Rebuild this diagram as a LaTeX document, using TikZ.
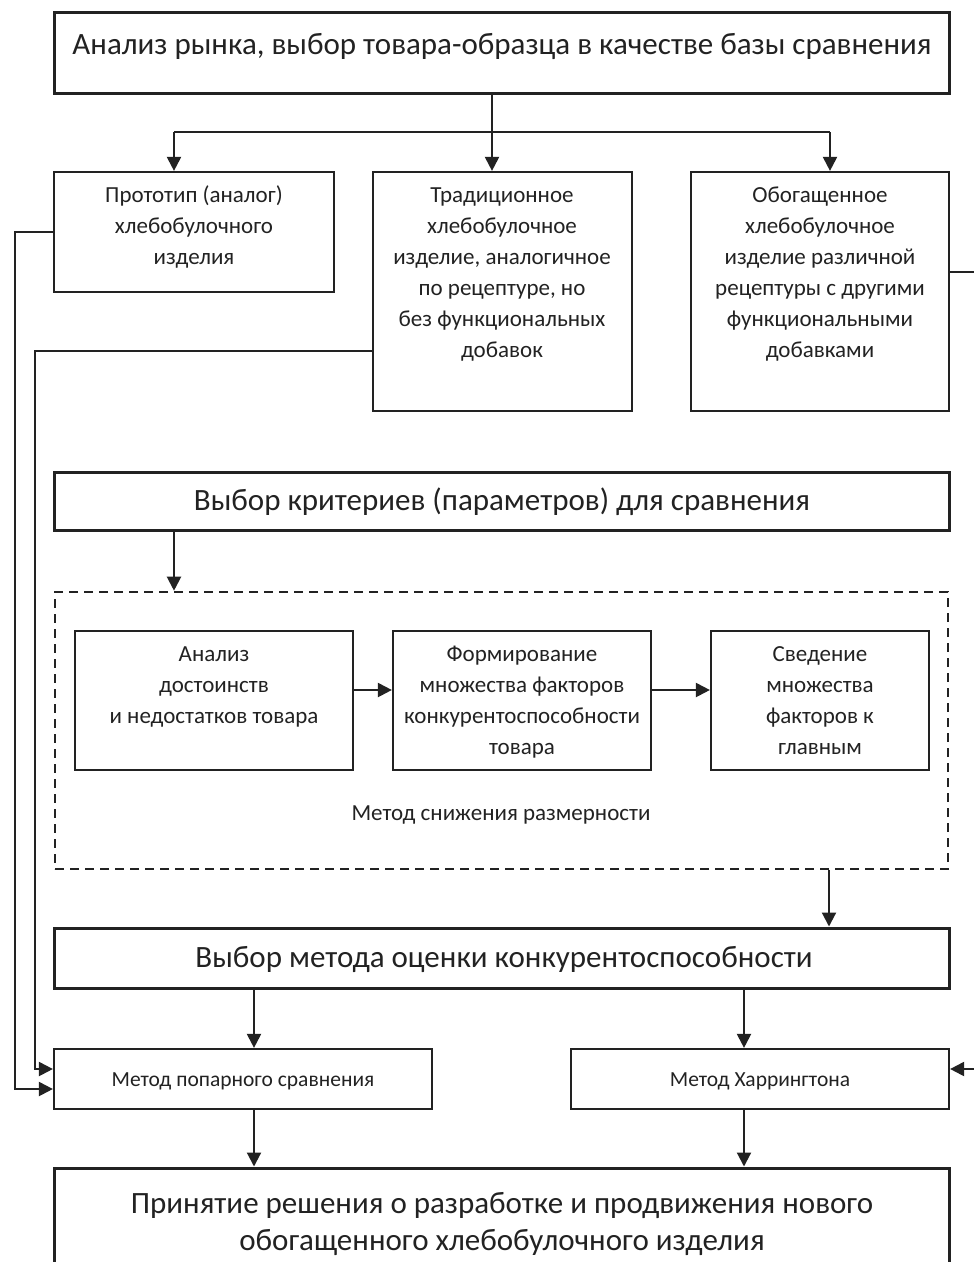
\documentclass[tikz,border=0pt]{standalone}
\usepackage{fontspec}
\setmainfont{Carlito}
\usetikzlibrary{arrows.meta}
\definecolor{ink}{HTML}{222222}
\begin{document}
\begin{tikzpicture}[x=1pt,y=-1pt,
  bigbox/.style={draw=ink, line width=3pt, inner sep=0pt},
  smallbox/.style={draw=ink, line width=2.2pt, inner sep=0pt},
  dashbox/.style={draw=ink, line width=2.6pt, dash pattern=on 9pt off 6pt, inner sep=0pt},
  conn/.style={draw=ink, line width=2.1pt, -{Triangle[length=14pt,width=14pt]}},
  plain/.style={draw=ink, line width=2.1pt},
  bigtxt/.style={font=\fontsize{31}{37}\selectfont, align=center, inner sep=0pt, anchor=base, text=ink},
  midtxt/.style={font=\fontsize{23}{31}\selectfont, align=center, inner sep=0pt, anchor=base, text=ink},
  smalltxt/.style={font=\fontsize{21.5}{26}\selectfont, inner sep=0pt, anchor=base, text=ink},
]
\useasboundingbox (0,0) rectangle (974,1262);

% top box
\node[bigbox, minimum width=895pt, minimum height=81pt] (top) at (501.5,52.5) {};
\node[bigtxt] (toptxt) at (502,54) {Анализ рынка, выбор товара-образца в качестве базы сравнения};

% first row (anchor base = baseline of the last line)
\node[smallbox, minimum width=280pt, minimum height=120pt] (b1) at (194,232) {};
\node[smallbox, minimum width=259pt, minimum height=239pt] (b2) at (502.5,291.5) {};
\node[smallbox, minimum width=258pt, minimum height=239pt] (b3) at (820,291.5) {};
\node[midtxt] (t1) at (194,264) {Прототип (аналог)\\хлебобулочного\\изделия};
\node[midtxt] (t2) at (502,357) {Традиционное\\хлебобулочное\\изделие, аналогичное\\по рецептуре, но\\без функциональных\\добавок};
\node[midtxt] (t3) at (820,357) {Обогащенное\\хлебобулочное\\изделие различной\\рецептуры с другими\\функциональными\\добавками};

\coordinate (j) at (492,132);
\coordinate (jl) at (174,132);
\coordinate (jr) at (830,132);
\draw[plain] (jl) -- (jr);
\draw[conn] (top.south -| j) -- (b2.north -| j);
\draw[conn] (jl) -- (b1.north -| jl);
\draw[conn] (jr) -- (b3.north -| jr);

% criteria box
\node[bigbox, minimum width=895pt, minimum height=58pt] (kr) at (501.5,501) {};
\node[bigtxt] (krtxt) at (502,510) {Выбор критериев (параметров) для сравнения};

% dashed group
\node[dashbox, minimum width=893pt, minimum height=277pt] (grp) at (501.5,730.5) {};
\draw[conn] (kr.south -| jl) -- (grp.north -| jl);

\node[smallbox, minimum width=278pt, minimum height=139pt] (ia) at (214,700.5) {};
\node[smallbox, minimum width=258pt, minimum height=139pt] (ib) at (522,700.5) {};
\node[smallbox, minimum width=218pt, minimum height=139pt] (ic) at (820,700.5) {};
\node[midtxt] (ta) at (214,723) {Анализ\\достоинств\\и недостатков товара};
\node[midtxt] (tb) at (522,754) {Формирование\\множества факторов\\конкурентоспособности\\товара};
\node[midtxt] (tc) at (820,754) {Сведение\\множества\\факторов к\\главным};
\coordinate (ar) at (0,690);
\draw[conn] (ia.east |- ar) -- (ib.west |- ar);
\draw[conn] (ib.east |- ar) -- (ic.west |- ar);
\node[midtxt] (grplbl) at (501,820) {Метод снижения размерности};

% method choice
\node[bigbox, minimum width=895pt, minimum height=60pt] (vm) at (501.5,958) {};
\node[bigtxt] (vmtxt) at (504,967) {Выбор метода оценки конкурентоспособности};
\coordinate (dx) at (829,0);
\draw[conn] (grp.south -| dx) -- (vm.north -| dx);

% methods
\node[smallbox, minimum width=378pt, minimum height=60pt] (m1) at (243,1079) {};
\node[smallbox, minimum width=378pt, minimum height=60pt] (m2) at (760,1079) {};
\node[smalltxt] (m1txt) at (243,1086) {Метод попарного сравнения};
\node[smalltxt] (m2txt) at (760,1086) {Метод Харрингтона};
\coordinate (xa) at (254,0);
\coordinate (xb) at (744,0);
\draw[conn] (vm.south -| xa) -- (m1.north -| xa);
\draw[conn] (vm.south -| xb) -- (m2.north -| xb);

% side connectors
\coordinate (l1) at (15,232);
\coordinate (l2) at (35,351);
\coordinate (r1) at (980,272);
\draw[conn] (b1.west |- l1) -- (l1) |- ([yshift=-10pt]m1.west);
\draw[conn] (b2.west |- l2) -- (l2) |- ([yshift=10pt]m1.west);
\draw[conn] (b3.east |- r1) -- (r1) |- ([yshift=10pt]m2.east);

% final box (cut at the bottom)
\node[bigbox, minimum width=895pt, minimum height=140pt] (fin) at (501.5,1238) {};
\node[bigtxt] (fintxt) at (502,1250) {Принятие решения о разработке и продвижения нового\\обогащенного хлебобулочного изделия};
\draw[conn] (m1.south -| xa) -- (fin.north -| xa);
\draw[conn] (m2.south -| xb) -- (fin.north -| xb);
\end{tikzpicture}
\end{document}
